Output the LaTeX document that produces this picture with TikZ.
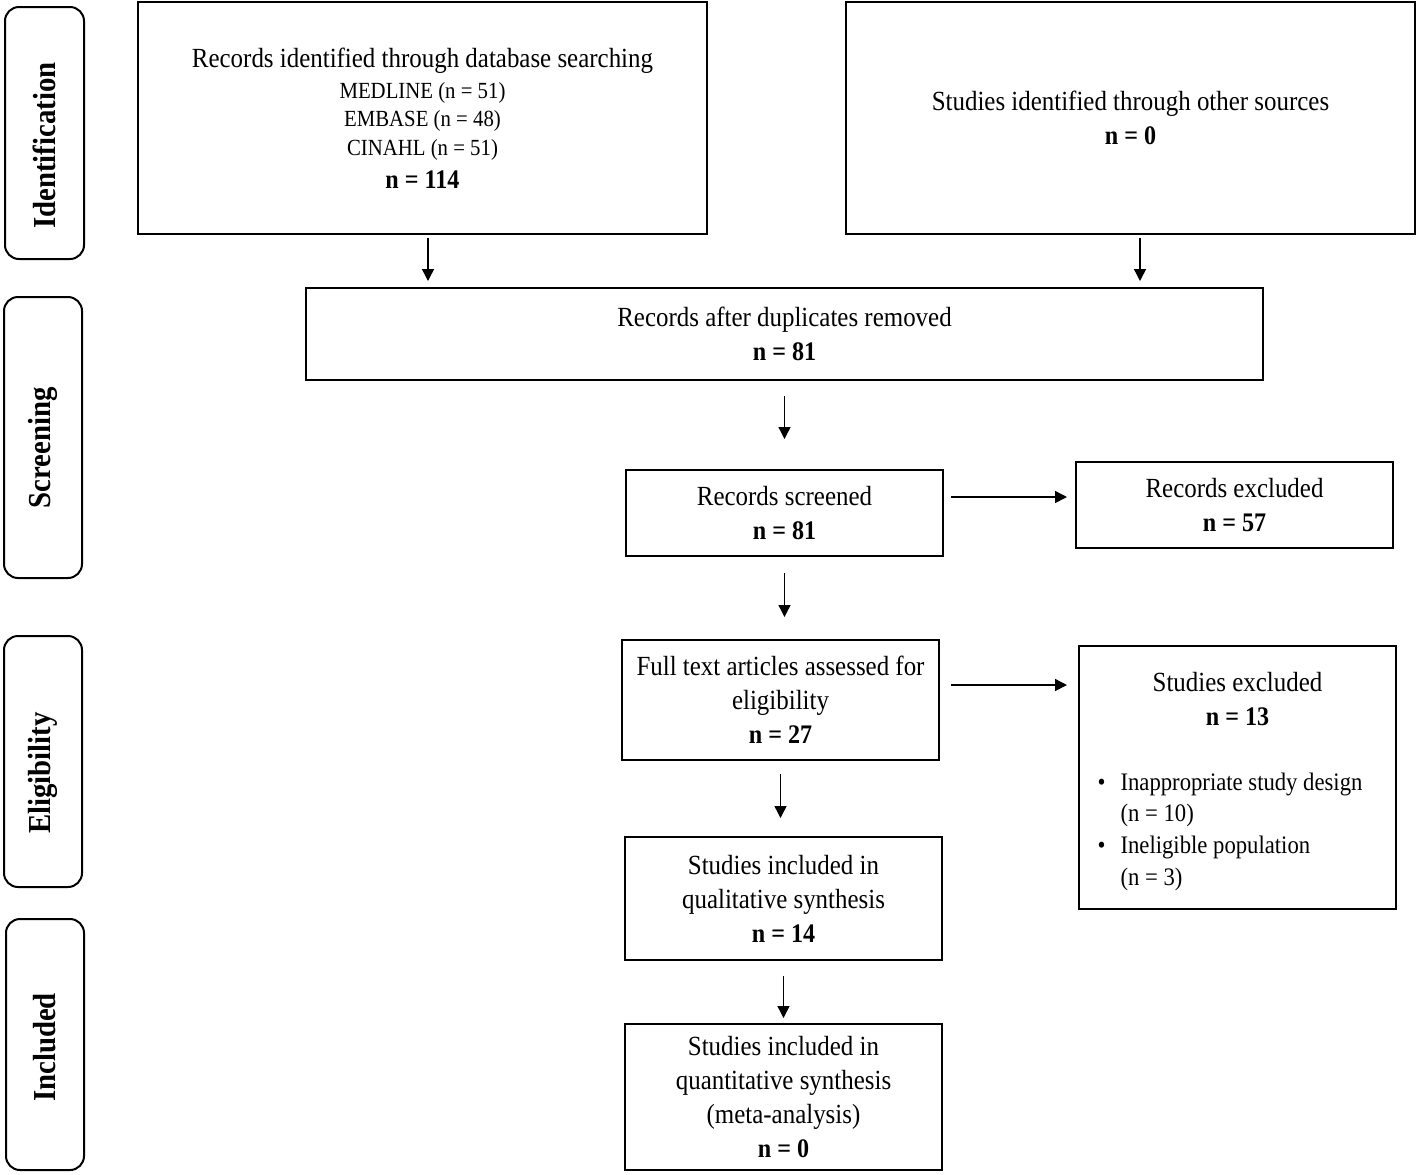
\documentclass[tikz,border=0pt]{standalone}
\usepackage{fontspec}
\setmainfont{Liberation Serif}[FakeStretch=0.9]
\usetikzlibrary{arrows.meta}
\newcommand{\mainsz}{\fontsize{13.85}{17}\selectfont}
\newcommand{\subsz}{\fontsize{11.55}{14.2}\selectfont}
\newcommand{\bulsz}{\fontsize{12.6}{15.8}\selectfont}
\newcommand{\nbf}[1]{{\fontsize{13.4}{17}\selectfont\bfseries #1}}
\begin{document}
\begin{tikzpicture}[x=0.5pt,y=-0.5pt,
  box/.style={draw,line width=1pt,align=center,inner sep=2pt,font=\mainsz},
  side/.style={draw,line width=1pt,rounded corners=7pt},
  sidetext/.style={rotate=90,inner sep=0pt,font=\fontsize{16}{19}\selectfont\bfseries},
  arr/.style={line width=0.7pt,-{Triangle[length=6pt,width=6pt]}}]
\useasboundingbox (0,0) rectangle (1418,1174);
% side labels
\node[side,minimum width=39.5pt,minimum height=126pt] (s1) at (44.5,133) {};
\node[side,minimum width=39pt,minimum height=140.5pt] (s2) at (43,437.5) {};
\node[side,minimum width=39pt,minimum height=125.5pt] (s3) at (43,761.5) {};
\node[side,minimum width=39pt,minimum height=125.5pt] (s4) at (45,1044.5) {};
\node[sidetext] (t1) at (44.5,145.5) {Identification};
\node[sidetext] (t2) at (43,448) {Screening};
\node[sidetext] (t3) at (43,773) {Eligibility};
\node[sidetext] (t4) at (45,1047.5) {Included};
% boxes
\node[box,minimum width=284.5pt,minimum height=116pt] (A) at (422.5,118)
  {Records identified through database searching\\[-1.5pt]
   {\subsz MEDLINE (n = 51)}\\[-2.75pt]
   {\subsz EMBASE (n = 48)}\\[-2.75pt]
   {\subsz CINAHL (n = 51)}\\[-0.5pt]
   \nbf{n = 114}};
\node[box,minimum width=284.5pt,minimum height=116pt] (B) at (1130.5,118)
  {Studies identified through other sources\\ \nbf{n = 0}};
\node[box,minimum width=478.5pt,minimum height=46pt] (C) at (784.5,334)
  {Records after duplicates removed\\ \nbf{n = 81}};
\node[box,minimum width=158.5pt,minimum height=43pt] (D) at (784.5,513)
  {Records screened\\ \nbf{n = 81}};
\node[box,minimum width=158.5pt,minimum height=43pt] (E) at (1234.5,505)
  {Records excluded\\ \nbf{n = 57}};
\node[box,minimum width=158.5pt,minimum height=60pt] (F) at (780.5,700)
  {Full text articles assessed for\\ eligibility\\ \nbf{n = 27}};
\node[box,minimum width=158.5pt,minimum height=131.5pt] (G) at (1237.5,777.5)
  {\rule{0pt}{15.5pt}Studies excluded\\ \nbf{n = 13}\\[15.5pt]
   \hspace*{-7.5pt}{\bulsz\begin{tabular}[t]{@{}l@{}l@{}}
   \makebox[11.5pt][l]{\textbullet} & Inappropriate study design\\
   & (n = 10)\\
   \makebox[11.5pt][l]{\textbullet} & Ineligible population\\
   & (n = 3)
   \end{tabular}}};
\node[box,minimum width=158.5pt,minimum height=61.5pt] (H) at (783.5,898.5)
  {Studies included in\\ qualitative synthesis\\ \nbf{n = 14}};
\node[box,minimum width=158.5pt,minimum height=73pt] (I) at (783.5,1097)
  {Studies included in\\ quantitative synthesis\\ (meta-analysis)\\ \nbf{n = 0}};
% arrows
\draw[arr,shorten <=1.5pt,shorten >=3pt] ([xshift=2.75pt]A.south) -- ([xshift=2.75pt]A.south |- C.north);
\draw[arr,shorten <=1.5pt,shorten >=3pt] ([xshift=4.75pt]B.south) -- ([xshift=4.75pt]B.south |- C.north);
\draw[arr,shorten <=7.5pt,shorten >=15pt] (C.south) -- (D.north);
\draw[arr,shorten <=3.5pt,shorten >=4pt] ([yshift=8pt]D.east) -- ([yshift=8pt]D.east -| E.west);
\draw[arr,shorten <=8pt,shorten >=11pt] (D.south) -- (D.south |- F.north);
\draw[arr,shorten <=5.5pt,shorten >=5.5pt] ([yshift=7.5pt]F.east) -- ([yshift=7.5pt]F.east -| G.west);
\draw[arr,shorten <=6.5pt,shorten >=9pt] (F.south) -- (F.south |- H.north);
\draw[arr,shorten <=7.5pt,shorten >=2.5pt] (H.south) -- (H.south |- I.north);
\end{tikzpicture}
\end{document}
